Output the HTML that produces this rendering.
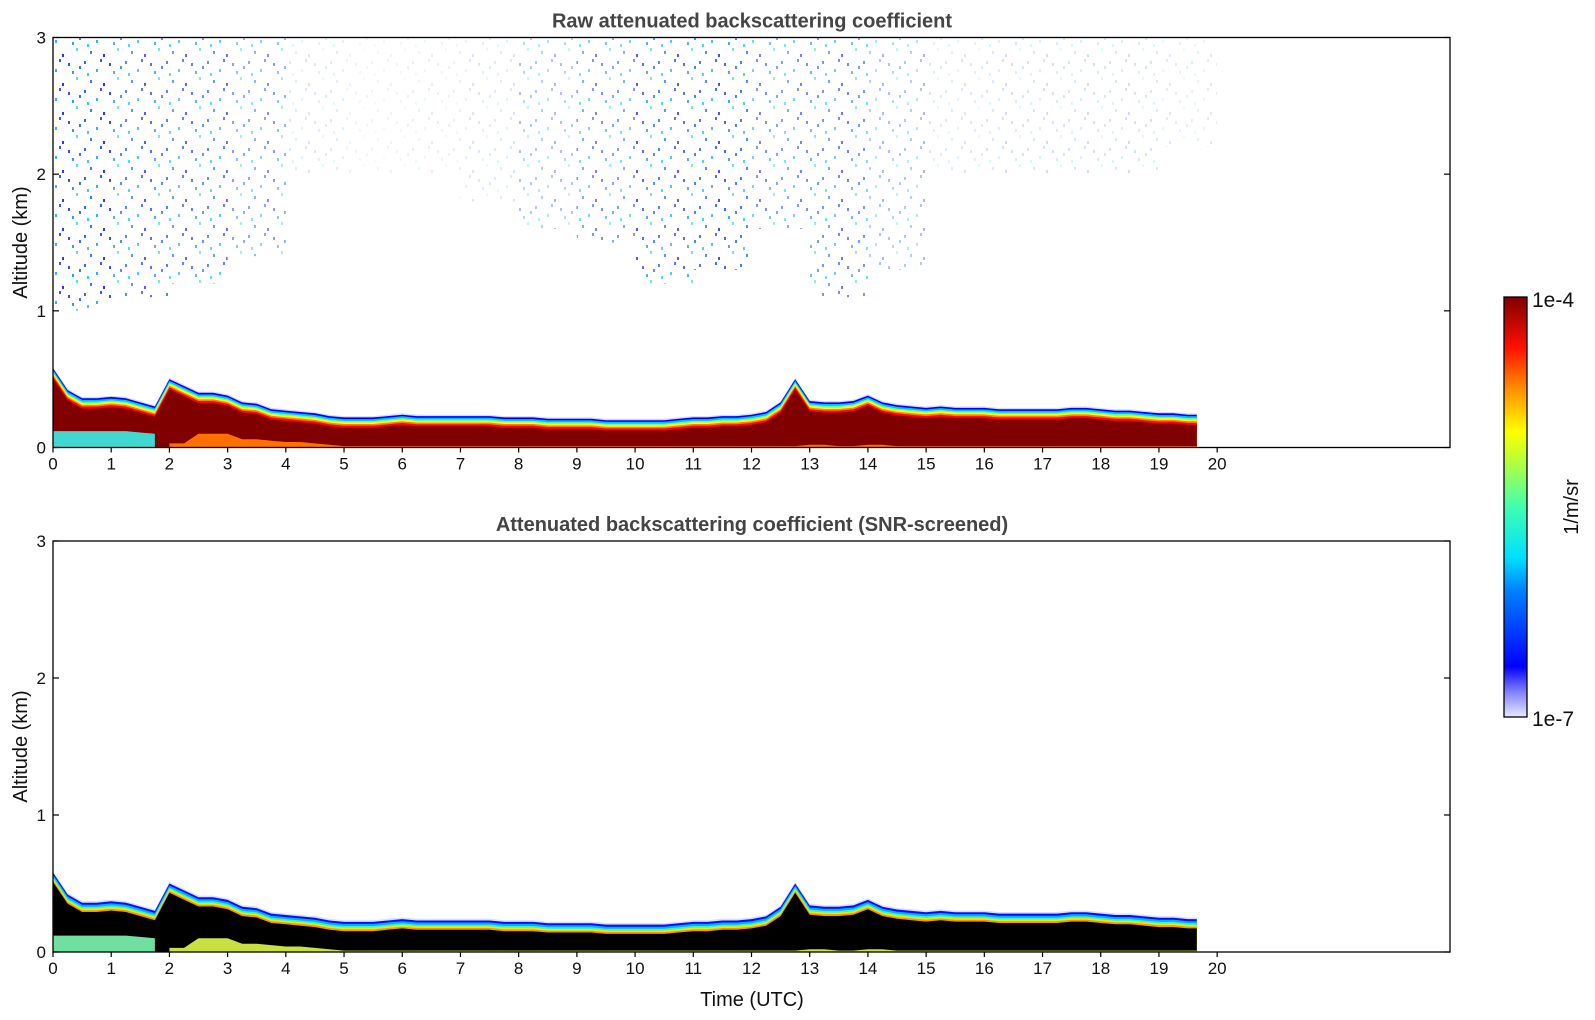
<!DOCTYPE html>
<html><head><meta charset="utf-8">
<style>
html,body{margin:0;padding:0;background:#fff;}
svg{display:block;font-family:"Liberation Sans","DejaVu Sans",sans-serif;}
</style></head>
<body>
<svg id="chart" width="1595" height="1020" viewBox="0 0 1595 1020" xmlns="http://www.w3.org/2000/svg">
<defs>
<pattern id="speck" width="41" height="29" patternUnits="userSpaceOnUse">
<rect x="2" y="3" width="2" height="3" fill="#0040ff"/>
<rect x="14" y="11" width="2" height="3" fill="#00a0ff"/>
<rect x="27" y="5" width="2" height="3" fill="#0020ff"/>
<rect x="35" y="19" width="2" height="3" fill="#30e0c0"/>
<rect x="8" y="22" width="2" height="3" fill="#0060ff"/>
<rect x="21" y="25" width="2" height="3" fill="#0000ff"/>
<rect x="31" y="13" width="2" height="3" fill="#0080ff"/>
<rect x="5" y="15" width="2" height="3" fill="#00c0ff"/>
<rect x="18" y="1" width="2" height="3" fill="#0030ff"/>
<rect x="38" y="8" width="2" height="3" fill="#0050ff"/>
</pattern>
<linearGradient id="cbar" x1="0" y1="1" x2="0" y2="0">
<stop offset="0" stop-color="#e8e8ff"/><stop offset="0.06" stop-color="#8080ff"/>
<stop offset="0.12" stop-color="#0000ff"/><stop offset="0.3" stop-color="#0080ff"/>
<stop offset="0.38" stop-color="#00e0ff"/><stop offset="0.5" stop-color="#40ffb0"/>
<stop offset="0.62" stop-color="#c0ff30"/><stop offset="0.68" stop-color="#ffff00"/>
<stop offset="0.78" stop-color="#ff9000"/><stop offset="0.88" stop-color="#ff1000"/>
<stop offset="1" stop-color="#800000"/>
</linearGradient>
</defs>
<g id="layers"></g>
</svg>
<script>
const times=[0,0.25,0.5,0.75,1,1.25,1.5,1.75,2,2.25,2.5,2.75,3,3.25,3.5,3.75,4,4.25,4.5,4.75,5,5.25,5.5,5.75,6,6.25,6.5,6.75,7,7.25,7.5,7.75,8,8.25,8.5,8.75,9,9.25,9.5,9.75,10,10.25,10.5,10.75,11,11.25,11.5,11.75,12,12.25,12.5,12.75,13,13.25,13.5,13.75,14,14.25,14.5,14.75,15,15.25,15.5,15.75,16,16.25,16.5,16.75,17,17.25,17.5,17.75,18,18.25,18.5,18.75,19,19.25,19.5,19.65];
const layerTop=[0.58,0.42,0.36,0.36,0.37,0.36,0.33,0.3,0.5,0.45,0.4,0.4,0.38,0.33,0.32,0.28,0.27,0.26,0.25,0.23,0.22,0.22,0.22,0.23,0.24,0.23,0.23,0.23,0.23,0.23,0.23,0.22,0.22,0.22,0.21,0.21,0.21,0.21,0.2,0.2,0.2,0.2,0.2,0.21,0.22,0.22,0.23,0.23,0.24,0.26,0.33,0.5,0.34,0.33,0.33,0.34,0.38,0.33,0.31,0.3,0.29,0.3,0.29,0.29,0.29,0.28,0.28,0.28,0.28,0.28,0.29,0.29,0.28,0.27,0.27,0.26,0.25,0.25,0.24,0.24];
const surfaceLayer=[0.12,0.12,0.12,0.12,0.12,0.12,0.11,0.1,0.03,0.03,0.1,0.1,0.1,0.06,0.06,0.05,0.04,0.04,0.03,0.02,0.01,0.01,0.01,0.01,0.01,0.01,0.01,0.01,0.01,0.01,0.01,0.01,0.01,0.01,0.01,0.01,0.01,0.01,0.01,0.01,0.01,0.01,0.01,0.01,0.01,0.01,0.01,0.01,0.01,0.01,0.01,0.01,0.02,0.02,0.01,0.01,0.02,0.02,0.01,0.01,0.01,0.01,0.01,0.01,0.01,0.01,0.01,0.01,0.01,0.01,0.01,0.01,0.01,0.01,0.01,0.01,0.01,0.01,0.01,0.01];
const speckleHours=[0,1,2,3,4,5,6,7,8,9,10,11,12,13,14,15,16,17,18,19];
const speckleDensity=[0.8,0.65,0.6,0.45,0.12,0.06,0.08,0.12,0.3,0.5,0.65,0.7,0.5,0.55,0.3,0.12,0.15,0.15,0.15,0.1];
const speckleBase=[1.0,1.1,1.2,1.4,2.0,2.0,2.0,1.8,1.6,1.5,1.2,1.3,1.6,1.1,1.3,2.0,2.0,2.0,2.0,2.2];
const xTicks=[0,1,2,3,4,5,6,7,8,9,10,11,12,13,14,15,16,17,18,19,20];
const yTicks=[0,1,2,3];

const NS='http://www.w3.org/2000/svg';
const svg=document.getElementById('layers');
const X0=53,XW=1450-53,TMAX=24;
const xs=t=>X0+t*XW/TMAX;
const panels=[{top:37.5,bot:447.5,title:'Raw attenuated backscattering coefficient',core:'#800000',snr:false,name:'raw-panel'},
{top:541,bot:952,title:'Attenuated backscattering coefficient (SNR-screened)',core:'#000000',snr:true,name:'snr-panel'}];
function mk(tag,attrs,parent){const e=document.createElementNS(NS,tag);for(const k in attrs)e.setAttribute(k,attrs[k]);(parent||svg).appendChild(e);return e;}
function bandPath(ys,off){let d='';times.forEach((t,i)=>{d+=(i?'L':'M')+xs(t).toFixed(1)+','+ys(Math.max(0,layerTop[i]-off)).toFixed(1);});
 d+='L'+xs(times[times.length-1]).toFixed(1)+','+ys(0)+'L'+xs(0)+','+ys(0)+'Z';return d;}
function surfPath(ys,i0,i1){let d='';for(let i=i0;i<=i1;i++){d+=(i>i0?'L':'M')+xs(times[i]).toFixed(1)+','+ys(surfaceLayer[i]).toFixed(1);}
 d+='L'+xs(times[i1]).toFixed(1)+','+ys(0)+'L'+xs(times[i0]).toFixed(1)+','+ys(0)+'Z';return d;}
panels.forEach(p=>{
 const g=mk('g',{});
 
 
 const ys=h=>p.bot-h*(p.bot-p.top)/3;
 if(!p.snr){
  speckleHours.forEach((h,i)=>{
   const r=mk('rect',{x:xs(h),y:ys(3),width:xs(1)-xs(0),height:ys(speckleBase[i])-ys(3),fill:'url(#speck)',opacity:speckleDensity[i]},g);
   
   
  });
 }
 const bands=p.snr?[[-0.012,'#dcdcff'],[0,'#0010ff'],[0.015,'#00b0ff'],[0.03,'#40f0c0'],[0.042,'#e0f000'],[0.055,'#ff9000'],[0.068,p.core]]
   :[[-0.01,'#d8d8ff'],[0,'#0000ff'],[0.012,'#00c0ff'],[0.025,'#60ff90'],[0.035,'#ffff00'],[0.048,'#ff8000'],[0.06,'#ff0000'],[0.075,p.core]];
 bands.forEach(b=>{
  const e=mk('path',{d:bandPath(ys,b[0]),fill:b[1]},g);
  
  
 });
 // surface layer: cool colours early, warm after ~1.9h
 const s1=mk('path',{d:surfPath(ys,0,7),fill:p.snr?'#70e0a0':'#40d8d0'},g);
 
 
 const s2=mk('path',{d:surfPath(ys,8,times.length-1),fill:p.snr?'#c8e040':'#ff7000'},g);
 
 
 const f=mk('rect',{x:X0,y:p.top,width:XW,height:p.bot-p.top,fill:'none',stroke:'#000','stroke-width':1.3},g);
 
 
 xTicks.forEach(v=>{
  mk('line',{x1:xs(v),x2:xs(v),y1:p.bot,y2:p.bot+5,stroke:'#000','stroke-width':1.2},g);
  const t=mk('text',{x:xs(v),y:p.bot+22,'font-size':17,'text-anchor':'middle',fill:'#111'},g);
  t.textContent=v;
  
  
 });
 yTicks.forEach(v=>{
  mk('line',{x1:X0,x2:X0+6,y1:ys(v),y2:ys(v),stroke:'#000','stroke-width':1.2},g);
  mk('line',{x1:X0+XW-6,x2:X0+XW,y1:ys(v),y2:ys(v),stroke:'#000','stroke-width':1.2},g);
  const t=mk('text',{x:X0-7,y:ys(v)+6,'font-size':17,'text-anchor':'end',fill:'#111'},g);
  t.textContent=v;
  
  
 });
 const tt=mk('text',{x:752,y:p.top-10,'font-size':20,'font-weight':'bold','text-anchor':'middle',fill:'#444'},g);
 tt.textContent=p.title;
 
 
 const yl=mk('text',{x:0,y:0,'font-size':20,'text-anchor':'middle',fill:'#111',transform:'translate(27,'+((p.top+p.bot)/2)+') rotate(-90)'},g);
 yl.textContent='Altitude (km)';
 
 
});
const xl=mk('text',{x:752,y:1006,'font-size':20,'text-anchor':'middle',fill:'#111'});
xl.textContent='Time (UTC)';


const cb=mk('rect',{x:1504,y:297,width:23,height:420,fill:'url(#cbar)',stroke:'#000','stroke-width':1.3});


const c1=mk('text',{x:1532,y:307,'font-size':21,fill:'#111'});c1.textContent='1e-4';


const c2=mk('text',{x:1532,y:726,'font-size':21,fill:'#111'});c2.textContent='1e-7';


const cu=mk('text',{x:0,y:0,'font-size':20,'text-anchor':'middle',fill:'#111',transform:'translate(1578,507) rotate(-90)'});
cu.textContent='1/m/sr';


</script>
</body></html>
